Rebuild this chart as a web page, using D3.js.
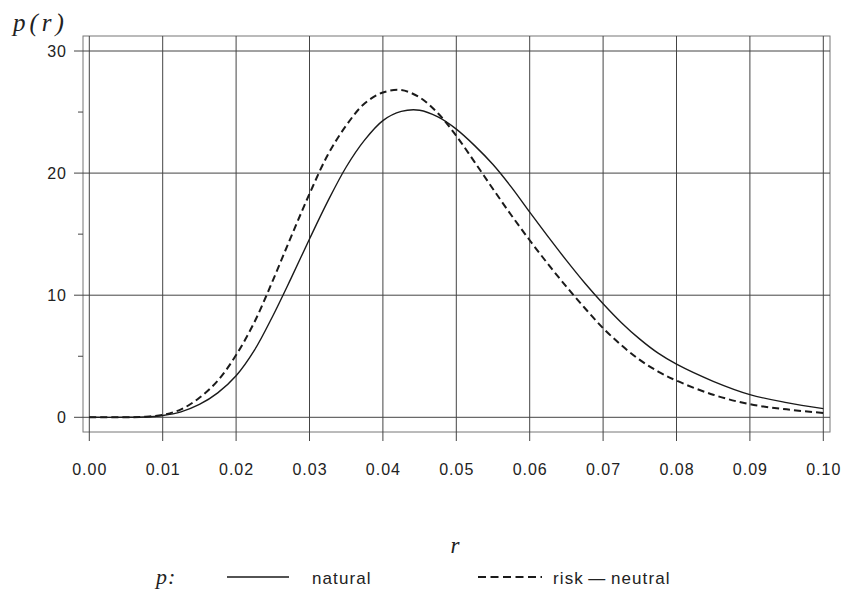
<!DOCTYPE html>
<html>
<head>
    <script src="https://d3js.org/d3.v7.min.js"></script>
    <style>
        body { margin: 0; background: #fff; }
        svg { display: block; }
        .tick-label { font-family: "Liberation Sans", Arial, sans-serif; font-size: 16px; letter-spacing: 1px; fill: #222; }
        .math { font-family: "Liberation Serif", "Times New Roman", serif; font-style: italic; fill: #222; }
        .legend-label { font-family: "Liberation Sans", Arial, sans-serif; font-size: 17px; letter-spacing: 1.1px; fill: #222; }
    </style>
</head>
<body>
<div id="chart"></div>
<script>
    const width = 845;
    const height = 601;

    // interest rate grid
    const rates = [0, 0.005, 0.0075, 0.01, 0.0125, 0.015, 0.0175, 0.02, 0.0225, 0.025, 0.0275,
        0.03, 0.0325, 0.035, 0.0375, 0.04, 0.0425, 0.045, 0.0475, 0.05, 0.0525, 0.055, 0.0575,
        0.06, 0.0625, 0.065, 0.0675, 0.07, 0.0725, 0.075, 0.0775, 0.08, 0.085, 0.09, 0.095, 0.1];

    // densities
    const natural = [0, 0, 0.02, 0.15, 0.45, 1.05, 2.0, 3.4, 5.5, 8.3, 11.4,
        14.6, 17.7, 20.5, 22.7, 24.3, 25.05, 25.15, 24.6, 23.6, 22.25, 20.7, 18.85,
        16.8, 14.8, 12.85, 11.0, 9.3, 7.75, 6.4, 5.25, 4.35, 2.95, 1.86, 1.2, 0.71];

    const riskNeutral = [0, 0, 0.04, 0.2, 0.65, 1.6, 3.0, 5.1, 7.8, 11.2, 14.8,
        18.3, 21.5, 23.9, 25.7, 26.6, 26.8, 26.2, 24.9, 23.05, 20.9, 18.7, 16.55,
        14.5, 12.55, 10.7, 8.95, 7.3, 5.9, 4.7, 3.75, 3.0, 1.85, 1.07, 0.65, 0.35];

    const xTicks = [0, 0.01, 0.02, 0.03, 0.04, 0.05, 0.06, 0.07, 0.08, 0.09, 0.1];
    const yTicks = [0, 10, 20, 30];
    const yMinorTicks = [5, 15, 25];

    const box = { left: 83, right: 830, top: 36, bottom: 432 };

    const x = d3.scaleLinear().domain([0, 0.1]).range([89.3, 823.3]);
    const y = d3.scaleLinear().domain([0, 30]).range([417.3, 51]);

    const svg = d3.select('#chart').append('svg')
        .attr('width', width)
        .attr('height', height);

    // frame
    svg.append('rect')
        .attr('x', box.left)
        .attr('y', box.top)
        .attr('width', box.right - box.left)
        .attr('height', box.bottom - box.top)
        .attr('fill', 'none')
        .attr('stroke', '#777')
        .attr('stroke-width', 1);

    // vertical grid + ticks
    svg.selectAll('.vgrid')
        .data(xTicks)
        .join('line')
        .attr('x1', d => x(d)).attr('x2', d => x(d))
        .attr('y1', box.top).attr('y2', box.bottom + 9)
        .attr('stroke', '#444')
        .attr('stroke-width', 1);

    // horizontal grid + ticks
    svg.selectAll('.hgrid')
        .data(yTicks)
        .join('line')
        .attr('x1', box.left - 9).attr('x2', box.right)
        .attr('y1', d => y(d)).attr('y2', d => y(d))
        .attr('stroke', '#444')
        .attr('stroke-width', 1);

    svg.selectAll('.minor')
        .data(yMinorTicks)
        .join('line')
        .attr('x1', box.left - 5).attr('x2', box.left)
        .attr('y1', d => y(d)).attr('y2', d => y(d))
        .attr('stroke', '#444')
        .attr('stroke-width', 1);

    // tick labels
    svg.selectAll('.xlab')
        .data(xTicks)
        .join('text')
        .attr('class', 'tick-label')
        .attr('x', d => x(d) + 0.5)
        .attr('y', 475)
        .attr('text-anchor', 'middle')
        .text(d => d3.format('.2f')(d));

    svg.selectAll('.ylab')
        .data(yTicks)
        .join('text')
        .attr('class', 'tick-label')
        .attr('x', 67)
        .attr('y', d => y(d) + 6)
        .attr('text-anchor', 'end')
        .text(d => d);

    // axis titles
    svg.append('text')
        .attr('class', 'math')
        .attr('x', 13)
        .attr('y', 31)
        .attr('font-size', 25)
        .attr('letter-spacing', 4)
        .text('p(r)');

    svg.append('text')
        .attr('class', 'math')
        .attr('x', 455)
        .attr('y', 553)
        .attr('text-anchor', 'middle')
        .attr('font-size', 23)
        .text('r');

    // curves
    const line = d3.line()
        .x((d, i) => x(rates[i]))
        .y(d => y(d))
        .curve(d3.curveCatmullRom.alpha(0.5));

    svg.append('path')
        .datum(natural)
        .attr('d', line)
        .attr('fill', 'none')
        .attr('stroke', '#1a1a1a')
        .attr('stroke-width', 1.4);

    svg.append('path')
        .datum(riskNeutral)
        .attr('d', line)
        .attr('fill', 'none')
        .attr('stroke', '#1a1a1a')
        .attr('stroke-width', 2)
        .attr('stroke-dasharray', '7,4');

    // legend
    const legendY = 577;
    svg.append('text')
        .attr('class', 'math')
        .attr('x', 156)
        .attr('y', legendY + 7)
        .attr('font-size', 22)
        .attr('letter-spacing', 1)
        .text('p:');

    svg.append('line')
        .attr('x1', 227).attr('x2', 289)
        .attr('y1', legendY).attr('y2', legendY)
        .attr('stroke', '#1a1a1a')
        .attr('stroke-width', 1.4);

    svg.append('text')
        .attr('class', 'legend-label')
        .attr('x', 312)
        .attr('y', legendY + 7)
        .text('natural');

    svg.append('line')
        .attr('x1', 478).attr('x2', 542)
        .attr('y1', legendY).attr('y2', legendY)
        .attr('stroke', '#1a1a1a')
        .attr('stroke-width', 2)
        .attr('stroke-dasharray', '8,4.5');

    svg.append('text')
        .attr('class', 'legend-label')
        .attr('x', 553)
        .attr('y', legendY + 7)
        .text('risk\u2009\u2014\u2009neutral');
</script>
</body>
</html>
